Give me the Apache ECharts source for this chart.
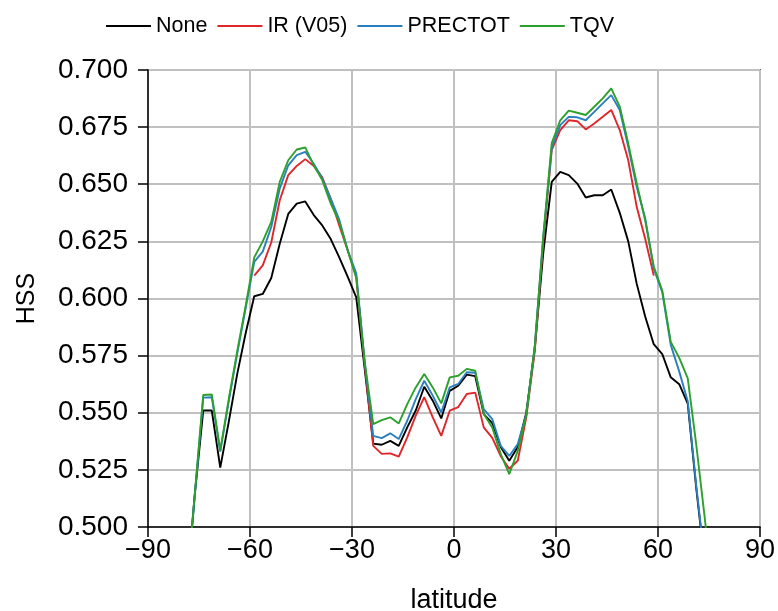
<!DOCTYPE html>
<html>
<head>
<meta charset="utf-8">
<script src="https://cdn.jsdelivr.net/npm/echarts@6/dist/echarts.min.js"></script>
<style>
  html, body { margin: 0; padding: 0; background: #fff; }
  #chart { width: 778px; height: 611px; }
</style>
</head>
<body>
<div id="chart"></div>
<script>
// latitude centres (2.5 deg bands)
var lat = [-78.75, -76.25, -73.75, -71.25, -68.75, -66.25, -63.75, -61.25, -58.75, -56.25,
  -53.75, -51.25, -48.75, -46.25, -43.75, -41.25, -38.75, -36.25, -33.75, -31.25,
  -28.75, -26.25, -23.75, -21.25, -18.75, -16.25, -13.75, -11.25, -8.75, -6.25,
  -3.75, -1.25, 1.25, 3.75, 6.25, 8.75, 11.25, 13.75, 16.25, 18.75,
  21.25, 23.75, 26.25, 28.75, 31.25, 33.75, 36.25, 38.75, 41.25, 43.75,
  46.25, 48.75, 51.25, 53.75, 56.25, 58.75, 61.25, 63.75, 66.25, 68.75,
  71.25, 73.75, 76.25];

var hssNone = [0.470, 0.514, 0.551, 0.551, 0.526, 0.546, 0.567, 0.585, 0.601, 0.602,
  0.609, 0.624, 0.637, 0.6415, 0.6425, 0.6365, 0.632, 0.626, 0.618, 0.6095,
  0.6005, 0.569, 0.5365, 0.536, 0.5377, 0.5355, 0.5436, 0.551, 0.5614, 0.5553,
  0.5475, 0.5596, 0.5618, 0.5667, 0.566, 0.5494, 0.5455, 0.535, 0.529, 0.535,
  0.550, 0.578, 0.620, 0.651, 0.6554, 0.654, 0.6503, 0.6442, 0.6452, 0.6452,
  0.6477, 0.6375, 0.625, 0.6064, 0.592, 0.580, 0.5757, 0.5655, 0.5625, 0.554,
  0.517, 0.484, 0.45];

var hssIR = [null, null, null, null, null, null, null, null, 0.610, 0.6145,
  0.6245, 0.643, 0.654, 0.658, 0.661, 0.658, 0.653, 0.6435, 0.632, 0.621,
  0.6095, 0.571, 0.5355, 0.532, 0.5322, 0.5308, 0.5392, 0.5487, 0.5568, 0.548,
  0.5399, 0.5509, 0.5525, 0.5582, 0.5588, 0.5436, 0.539, 0.531, 0.5255, 0.529,
  0.548, 0.577, 0.625, 0.665, 0.6737, 0.678, 0.6776, 0.674, 0.6766, 0.6795,
  0.6825, 0.6737, 0.6605, 0.640, 0.626, 0.610, null, null, null, null,
  null, null, null];

var hssPrectot = [0.471, 0.514, 0.5566, 0.5568, 0.533, 0.555, 0.576, 0.596, 0.616, 0.6205,
  0.6313, 0.6481, 0.6583, 0.6627, 0.6642, 0.659, 0.6525, 0.6437, 0.6345, 0.621,
  0.611, 0.572, 0.5399, 0.5389, 0.541, 0.5385, 0.5465, 0.556, 0.564, 0.5575,
  0.5501, 0.5611, 0.5626, 0.5677, 0.5675, 0.5516, 0.5472, 0.5355, 0.5311, 0.5363,
  0.549, 0.579, 0.627, 0.666, 0.6759, 0.6795, 0.6793, 0.678, 0.6817, 0.6854,
  0.689, 0.6825, 0.6664, 0.6488, 0.635, 0.613, 0.6028, 0.5797, 0.568, 0.555,
  0.518, 0.485, 0.45];

var hssTqv = [0.471, 0.514, 0.5578, 0.558, 0.5335, 0.556, 0.577, 0.597, 0.618, 0.625,
  0.6335, 0.651, 0.6605, 0.6652, 0.6661, 0.6583, 0.6518, 0.6415, 0.6335, 0.621,
  0.609, 0.572, 0.545, 0.5468, 0.548, 0.5453, 0.5538, 0.5611, 0.567, 0.5611,
  0.5541, 0.5655, 0.5662, 0.5692, 0.5684, 0.5495, 0.5436, 0.5319, 0.5231, 0.5333,
  0.549, 0.579, 0.627, 0.668, 0.678, 0.6822, 0.6813, 0.6803, 0.6839, 0.6876,
  0.692, 0.684, 0.6678, 0.6503, 0.634, 0.614, 0.6035, 0.581, 0.574, 0.565,
  0.536, 0.504, 0.47];

var names = ['None', 'IR (V05)', 'PRECTOT', 'TQV'];
var colors = ['#000000', '#e0262a', '#2a7fbf', '#2ca02c'];

function pairs(vals) {
    var out = [];
    for (var i = 0; i < lat.length; i++) {
        if (vals[i] !== null) out.push([lat[i], vals[i]]);
    }
    return out;
}

function makeSeries(name, vals, color) {
    return {
        name: name,
        type: 'line',
        data: pairs(vals),
        symbol: 'none',
        clip: true,
        lineStyle: { color: color, width: 1.9 },
        itemStyle: { color: color }
    };
}

var font = 'Liberation Sans, Arial, sans-serif';

var option = {
    animation: false,
    backgroundColor: '#fff',
    color: colors,
    legend: {
        left: 101,
        top: 10,
        icon: 'rect',
        itemWidth: 45,
        itemHeight: 2,
        itemGap: 10,
        data: names,
        textStyle: { color: '#000', fontSize: 21.5, fontFamily: font }
    },
    grid: {
        left: 148, right: 18, top: 70, bottom: 84,
        outerBoundsMode: 'none',
        containLabel: false,
        show: true,
        borderColor: '#000',
        borderWidth: 1.5
    },
    xAxis: {
        type: 'value',
        min: -90, max: 90, interval: 30,
        name: 'latitude',
        nameLocation: 'middle',
        nameGap: 60,
        nameTextStyle: { color: '#000', fontSize: 27, fontFamily: font },
        axisLine: { show: true, onZero: false, lineStyle: { color: '#000', width: 1.5 } },
        axisTick: { show: true, inside: false, length: 10, lineStyle: { color: '#000', width: 1.5 } },
        axisLabel: {
            color: '#000', fontSize: 27, fontFamily: font, margin: 10,
            formatter: function (v) { return v < 0 ? '\u2212' + Math.abs(v) : String(v); }
        },
        splitLine: { show: true, lineStyle: { color: '#c0c0c0', width: 2 } }
    },
    yAxis: {
        type: 'value',
        min: 0.5, max: 0.7, interval: 0.025,
        name: 'HSS',
        nameLocation: 'middle',
        nameGap: 108,
        nameTextStyle: { color: '#000', fontSize: 25, fontFamily: font },
        axisLine: { show: true, onZero: false, lineStyle: { color: '#000', width: 1.5 } },
        axisTick: { show: true, inside: false, length: 10, lineStyle: { color: '#000', width: 1.5 } },
        axisLabel: {
            color: '#000', fontSize: 28, fontFamily: font, margin: 20,
            formatter: function (v) { return v.toFixed(3); }
        },
        splitLine: { show: true, lineStyle: { color: '#c0c0c0', width: 2 } }
    },
    series: [
        makeSeries(names[0], hssNone, colors[0]),
        makeSeries(names[1], hssIR, colors[1]),
        makeSeries(names[2], hssPrectot, colors[2]),
        makeSeries(names[3], hssTqv, colors[3])
    ]
};

var myChart = echarts.init(document.getElementById('chart'));
myChart.setOption(option);
</script>
</body>
</html>
